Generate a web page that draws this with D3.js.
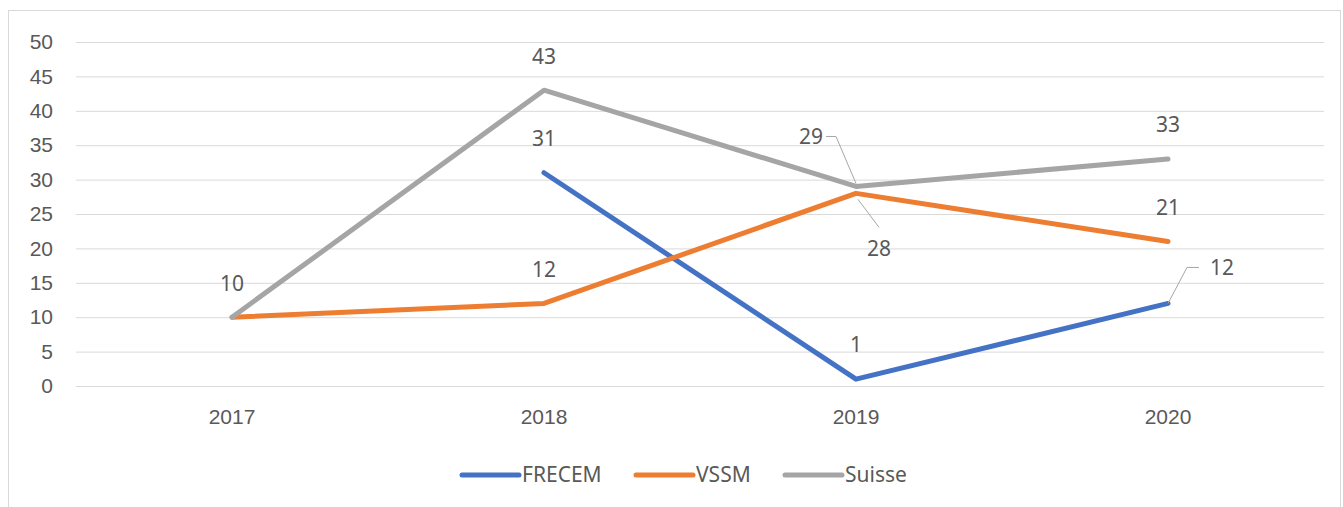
<!DOCTYPE html>
<html>
<head>
    <title>FRECEM / VSSM / Suisse</title>
    <script src="https://d3js.org/d3.v7.min.js"></script>
    <style>
        body {
            margin: 0;
            background-color: white;
            font-family: "Noto Sans", "Open Sans", sans-serif;
        }
        .grid line {
            stroke: #d9d9d9;
            stroke-width: 1px;
        }
        .axis text, .label, .legend text {
            fill: #595959;
            font-size: 21px;
        }
        .series {
            fill: none;
            stroke-width: 5px;
            stroke-linejoin: round;
            stroke-linecap: round;
        }
        .leader {
            fill: none;
            stroke: #a6a6a6;
            stroke-width: 1px;
        }
    </style>
</head>
<body>
    <div id="chart"></div>
    <script>
        // data
        const years = ["2017", "2018", "2019", "2020"];
        const frecem = [null, 31, 1, 12];
        const vssm = [10, 12, 28, 21];
        const suisse = [10, 43, 29, 33];
        const yTicks = [0, 5, 10, 15, 20, 25, 30, 35, 40, 45, 50];

        const seriesList = [
            { name: "FRECEM", values: frecem, color: "#4472C4" },
            { name: "VSSM", values: vssm, color: "#ED7D31" },
            { name: "Suisse", values: suisse, color: "#A5A5A5" }
        ];

        // data label placement (pixel offsets from the point), leader lines for the moved ones
        const labelMoves = {
            "VSSM-0": { hidden: true },
            "Suisse-2": { dx: -45, dy: -50, leader: true },
            "VSSM-2": { dx: 23, dy: 55, leader: true },
            "FRECEM-3": { dx: 54, dy: -36, leader: true }
        };

        const width = 1343, height = 507;
        const margin = { left: 76, right: 19, top: 42, bottom: 121 };

        const svg = d3.select("#chart").append("svg")
            .attr("width", width)
            .attr("height", height);

        // chart border
        svg.append("rect")
            .attr("x", 8.5).attr("y", 10.5)
            .attr("width", 1332).attr("height", 520)
            .attr("fill", "white")
            .attr("stroke", "#d9d9d9");

        const x = d3.scaleBand()
            .domain(years)
            .range([margin.left, width - margin.right]);

        const y = d3.scaleLinear()
            .domain([0, 50])
            .range([height - margin.bottom, margin.top]);

        // gridlines
        svg.append("g")
            .attr("class", "grid")
            .selectAll("line")
            .data(yTicks)
            .enter()
            .append("line")
            .attr("x1", margin.left)
            .attr("x2", width - margin.right)
            .attr("y1", d => y(d) + 0.5)
            .attr("y2", d => y(d) + 0.5);

        // y axis labels
        const yAxis = svg.append("g")
            .attr("class", "axis")
            .attr("transform", `translate(${margin.left - 23},0)`)
            .call(d3.axisLeft(y).tickValues(yTicks).tickSize(0).tickPadding(0));
        yAxis.select(".domain").remove();
        yAxis.selectAll("text").attr("font-family", null).attr("font-size", null);

        // x axis labels
        const xAxis = svg.append("g")
            .attr("class", "axis")
            .attr("transform", `translate(0,${height - margin.bottom + 23})`)
            .call(d3.axisBottom(x).tickSize(0).tickPadding(0));
        xAxis.select(".domain").remove();
        xAxis.selectAll("text").attr("font-family", null).attr("font-size", null);

        const cx = i => x(years[i]) + x.bandwidth() / 2;

        const line = d3.line()
            .defined(d => d != null)
            .x((d, i) => cx(i))
            .y(d => y(d));

        svg.append("g")
            .selectAll("path")
            .data(seriesList)
            .enter()
            .append("path")
            .attr("class", "series")
            .attr("stroke", d => d.color)
            .attr("d", d => line(d.values));

        // data labels
        const labels = [];
        seriesList.forEach(s => {
            s.values.forEach((v, i) => {
                if (v == null) return;
                const m = labelMoves[s.name + "-" + i] || {};
                if (m.hidden) return;
                labels.push({
                    v: v,
                    px: cx(i), py: y(v),
                    lx: cx(i) + (m.dx || 0),
                    ly: y(v) + (m.dy === undefined ? -34 : m.dy),
                    leader: m.leader
                });
            });
        });

        const lg = svg.append("g");
        labels.filter(d => d.leader).forEach(d => {
            let pts;
            if (d.lx < d.px) {
                // label on the left: short tick then down to point
                pts = [[d.lx + 15, d.ly], [d.lx + 25, d.ly], [d.px, d.py - 3]];
            } else if (d.ly > d.py) {
                pts = [[d.px + 2, d.py + 6], [d.lx, d.ly - 21]];
            } else {
                pts = [[d.px, d.py], [d.px + 19, d.ly], [d.lx - 23, d.ly]];
            }
            lg.append("path")
                .attr("class", "leader")
                .attr("d", d3.line()(pts));
        });

        lg.selectAll("text")
            .data(labels)
            .enter()
            .append("text")
            .attr("class", "label")
            .attr("x", d => d.lx)
            .attr("y", d => d.ly)
            .attr("dy", "0.35em")
            .attr("text-anchor", "middle")
            .text(d => d.v);

        // legend
        const legendX = [462, 636, 785];
        const legend = svg.append("g")
            .attr("class", "legend")
            .attr("transform", "translate(0,475)");
        const item = legend.selectAll("g")
            .data(seriesList)
            .enter()
            .append("g")
            .attr("transform", (d, i) => `translate(${legendX[i]},0)`);
        item.append("line")
            .attr("x1", 0).attr("x2", 57)
            .attr("stroke", d => d.color)
            .attr("stroke-width", 5)
            .attr("stroke-linecap", "round");
        item.append("text")
            .attr("x", 60)
            .attr("dy", "0.35em")
            .text(d => d.name);
    </script>
</body>
</html>
